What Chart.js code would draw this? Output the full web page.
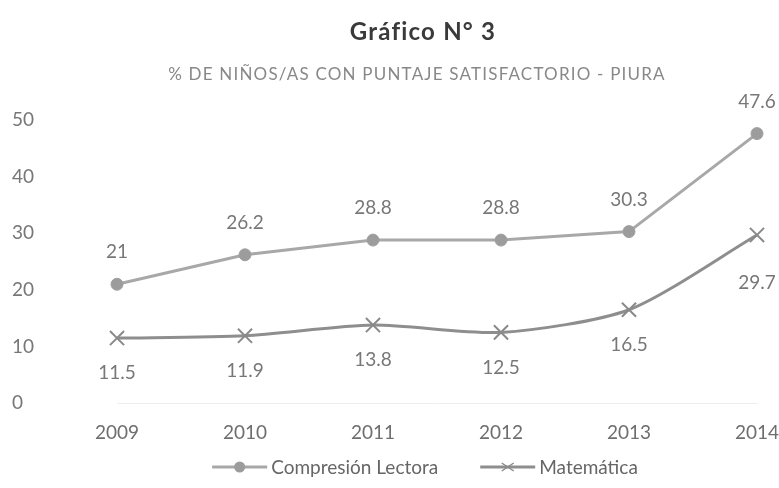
<!DOCTYPE html>
<html>
<head>
<title>Gráfico N° 3</title>
<style>
body { margin: 0; background: #fff; }
.chart-container { width: 779px; height: 488px; position: relative; }
</style>
<script src="https://cdn.jsdelivr.net/npm/chart.js@4.4.0/dist/chart.umd.min.js"></script>
</head>
<body>
	<div class="chart-container">
		<canvas id="chart" width="779" height="488"></canvas>
	</div>
	<script>
		const years = ["2009", "2010", "2011", "2012", "2013", "2014"];
		const lectora = [21, 26.2, 28.8, 28.8, 30.3, 47.6];
		const matematica = [11.5, 11.9, 13.8, 12.5, 16.5, 29.7];
		const yTicks = [0, 10, 20, 30, 40, 50];
		const titleText = "Gráfico N° 3";
		const subtitleText = "% DE NIÑOS/AS CON PUNTAJE SATISFACTORIO - PIURA";

		const FONT = "Lato, 'Open Sans', sans-serif";

		// titles, value labels and legend, drawn like the Excel original
		const decorations = {
			id: 'decorations',
			afterDatasetsDraw(chart) {
				const ctx = chart.ctx;
				ctx.save();
				ctx.textAlign = 'center';
				ctx.textBaseline = 'middle';

				ctx.fillStyle = '#3a3a3a';
				ctx.font = "bold 24px " + FONT;
				ctx.letterSpacing = '1.2px';
				ctx.fillText(titleText, 423, 32);
				ctx.fillStyle = '#888';
				ctx.font = "17px " + FONT;
				ctx.letterSpacing = '1.2px';
				ctx.fillText(subtitleText, 417, 75);
				ctx.letterSpacing = '0px';

				ctx.font = "19px " + FONT;
				ctx.fillStyle = '#777';
				chart.getDatasetMeta(0).data.forEach((p, i) => {
					ctx.fillText(String(lectora[i]), p.x, p.y - 32);
				});
				chart.getDatasetMeta(1).data.forEach((p, i) => {
					const last = i === matematica.length - 1;
					ctx.fillText(String(matematica[i]), p.x, p.y + (last ? 48 : 35));
				});

				// legend
				ctx.font = "19px " + FONT;
				ctx.textAlign = 'left';
				const items = chart.data.datasets;
				const sym = 55, gap = 4, between = 42;
				let total = 0;
				items.forEach((d, i) => {
					total += sym + gap + ctx.measureText(d.label).width + (i ? between : 0);
				});
				let x = 425 - total / 2;
				const y = 467;
				items.forEach((d, i) => {
					if (i) x += between;
					ctx.strokeStyle = d.borderColor;
					ctx.lineWidth = 3;
					ctx.beginPath();
					ctx.moveTo(x, y);
					ctx.lineTo(x + sym, y);
					ctx.stroke();
					const cx = x + sym / 2;
					if (d.pointStyle === 'circle') {
						ctx.fillStyle = d.pointBackgroundColor;
						ctx.beginPath();
						ctx.arc(cx, y, 5.5, 0, Math.PI * 2);
						ctx.fill();
					} else {
						ctx.lineWidth = 1.5;
						ctx.strokeStyle = d.pointBorderColor;
						ctx.beginPath();
						ctx.moveTo(cx - 6, y - 4); ctx.lineTo(cx + 6, y + 4);
						ctx.moveTo(cx + 6, y - 4); ctx.lineTo(cx - 6, y + 4);
						ctx.stroke();
					}
					ctx.fillStyle = '#666';
					ctx.fillText(d.label, x + sym + gap, y + 1);
					x += sym + gap + ctx.measureText(d.label).width;
				});
				ctx.restore();
			}
		};

		const ctx = document.getElementById('chart').getContext('2d');
		new Chart(ctx, {
			type: 'line',
			data: {
				labels: years,
				datasets: [{
					label: 'Compresión Lectora',
					data: lectora,
					borderColor: '#a8a8a8',
					borderWidth: 3,
					pointStyle: 'circle',
					pointRadius: 6,
					pointBackgroundColor: '#9c9c9c',
					pointBorderColor: '#a0a0a0',
					pointBorderWidth: 1,
					tension: 0
				}, {
					label: 'Matemática',
					data: matematica,
					borderColor: '#8e8e8e',
					borderWidth: 3,
					pointStyle: 'cross',
					rotation: 45,
					pointRadius: 10,
					pointBorderColor: '#8a8a8a',
					pointBorderWidth: 2,
					tension: 0.25
				}]
			},
			options: {
				responsive: false,
				animation: false,
				layout: { padding: { top: 120, left: 12, right: 22, bottom: 34 } },
				plugins: {
					legend: { display: false },
					title: { display: false },
					tooltip: { enabled: false }
				},
				scales: {
					x: {
						offset: false,
						afterFit: (axis) => { axis.paddingLeft = 0; axis.paddingRight = 0; },
						grid: { display: false },
						border: { display: true, color: '#eeeeee', width: 1 },
						ticks: { color: '#6e6e6e', font: { family: FONT, size: 19 }, padding: 10 }
					},
					y: {
						min: 0,
						max: 50,
						afterBuildTicks: (axis) => { axis.ticks = yTicks.map(v => ({ value: v })); },
						afterFit: (axis) => { axis.width = 105; },
						grid: { display: false },
						border: { display: false },
						ticks: { color: '#777', crossAlign: 'far', font: { family: FONT, size: 19 } }
					}
				}
			},
			plugins: [decorations]
		});
	</script>
</body>
</html>
